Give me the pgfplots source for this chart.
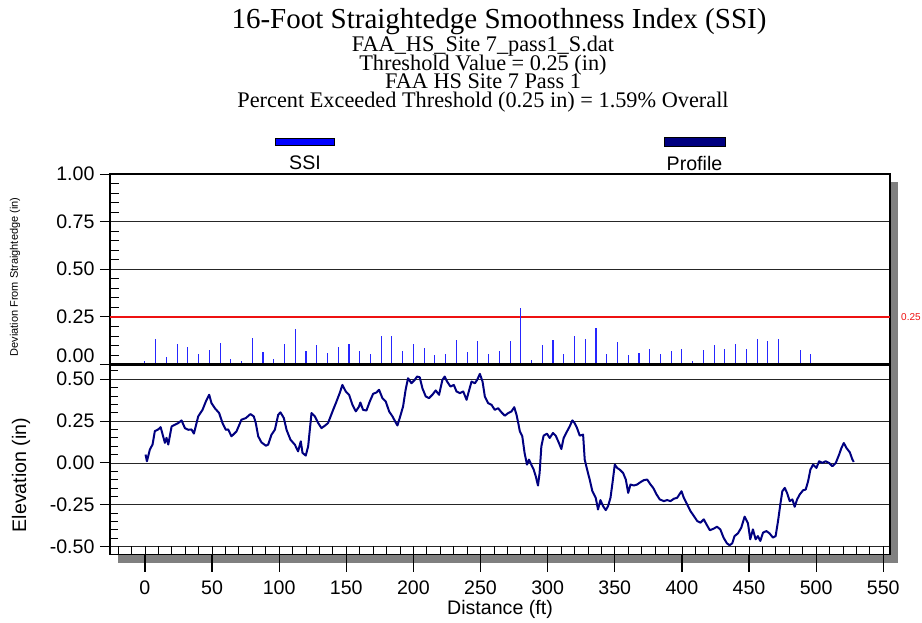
\documentclass[border=0pt]{standalone}
\usepackage{pgfplots}
\pgfplotsset{compat=1.18}
\usepackage{fontspec}
\setmainfont{Liberation Sans}
\newfontfamily\tnr{Liberation Serif}
\definecolor{navy}{HTML}{000080}
\definecolor{shadowgray}{HTML}{808080}
\definecolor{ssiblue}{HTML}{0000FF}
\definecolor{thr}{HTML}{EE1111}
\newcommand{\tickfont}{\fontsize{19.6}{22}\selectfont}
\pgfplotstableread{
d v
0 0.018
8 0.134
16 0.037
24 0.109
32 0.090
40 0.053
48 0.077
56 0.114
64 0.028
72 0.018
80 0.141
88 0.063
96 0.028
104 0.106
112 0.185
120 0.070
128 0.102
136 0.060
144 0.092
152 0.107
160 0.070
168 0.055
176 0.148
184 0.151
192 0.072
200 0.109
208 0.088
216 0.048
224 0.056
232 0.127
240 0.065
248 0.123
256 0.055
264 0.072
272 0.123
280 0.299
288 0.023
296 0.102
304 0.127
312 0.053
320 0.148
328 0.134
336 0.192
344 0.055
352 0.118
360 0.049
368 0.060
376 0.083
384 0.055
392 0.070
400 0.081
408 0.019
416 0.074
424 0.102
432 0.079
440 0.107
448 0.081
456 0.134
464 0.123
472 0.134
480 0.004
488 0.076
496 0.056
}\ssitable
\pgfplotstableread{
d v
0.5 0.05
1.5 0.01
3.7 0.08
5.7 0.11
7.4 0.19
9.9 0.20
11.7 0.214
13.2 0.17
14.9 0.12
16.1 0.15
17.4 0.11
19.9 0.218
22.3 0.228
24.8 0.238
27.3 0.254
29.8 0.208
32.3 0.198
34.7 0.20
36.5 0.175
39.7 0.278
42.9 0.317
45.4 0.367
47.9 0.407
49.6 0.357
52.1 0.327
55.3 0.298
57.8 0.238
60.3 0.198
62.0 0.20
64.5 0.159
68.2 0.188
71.9 0.258
75.2 0.268
78.6 0.292
81.1 0.278
82.6 0.238
84.4 0.159
86.8 0.123
90.1 0.103
91.8 0.109
94.3 0.169
96.8 0.198
99.3 0.288
101.0 0.302
103.5 0.268
105.5 0.198
108.4 0.139
111.7 0.109
114.1 0.069
116.1 0.129
117.4 0.06
119.8 0.044
121.6 0.099
124.1 0.298
126.6 0.278
129.1 0.238
131.5 0.208
134.0 0.222
136.4 0.238
140.2 0.317
142.7 0.367
145.1 0.417
147.1 0.466
149.6 0.427
152.1 0.407
154.6 0.347
157.1 0.308
159.5 0.337
160.5 0.361
162.5 0.317
165.0 0.313
167.5 0.367
170.0 0.413
172.5 0.421
174.4 0.437
176.9 0.387
179.4 0.367
181.9 0.308
184.4 0.278
186.8 0.242
188.1 0.224
189.8 0.268
192.3 0.337
194.2 0.437
196.0 0.506
198.5 0.476
201.0 0.496
202.7 0.516
204.7 0.512
206.7 0.446
209.2 0.397
211.6 0.387
214.1 0.407
216.6 0.433
219.1 0.407
221.6 0.496
223.3 0.516
225.1 0.486
227.6 0.456
230.1 0.466
232.1 0.427
234.6 0.417
237.1 0.427
239.6 0.377
241.6 0.437
243.3 0.486
245.8 0.476
247.5 0.496
249.5 0.532
251.5 0.486
253.2 0.397
255.7 0.357
258.2 0.347
260.6 0.317
263.1 0.327
265.6 0.302
268.1 0.282
270.6 0.298
273.1 0.308
275.1 0.333
276.8 0.288
278.1 0.238
279.3 0.188
281.1 0.159
282.8 0.06
284.6 -0.01
286.1 0.02
287.8 -0.01
289.6 -0.04
291.1 -0.079
292.8 -0.135
294.0 -0.06
295.3 0.099
297.0 0.163
299.5 0.175
301.5 0.149
304.0 0.179
306.0 0.163
308.4 0.119
310.2 0.083
311.9 0.149
314.4 0.188
316.4 0.218
318.4 0.254
320.1 0.238
321.9 0.208
323.9 0.163
326.4 0.169
327.6 0.02
329.4 -0.04
331.3 -0.099
333.3 -0.169
335.8 -0.208
337.5 -0.278
339.3 -0.222
341.3 -0.258
343.3 -0.282
345.0 -0.258
346.8 -0.208
348.3 -0.119
350.0 -0.01
351.8 -0.03
353.7 -0.04
356.2 -0.06
358.2 -0.099
360.0 -0.179
361.7 -0.129
364.2 -0.135
366.6 -0.129
369.1 -0.115
371.6 -0.103
374.1 -0.099
376.6 -0.129
378.6 -0.149
381.1 -0.188
383.5 -0.218
386.5 -0.228
389.0 -0.222
391.5 -0.228
394.0 -0.214
396.5 -0.208
399.7 -0.169
401.4 -0.208
403.9 -0.248
406.4 -0.288
408.9 -0.317
411.4 -0.347
413.8 -0.357
416.3 -0.337
418.3 -0.367
420.8 -0.402
423.6 -0.393
426.1 -0.381
428.6 -0.397
431.0 -0.446
433.5 -0.48
435.5 -0.492
437.5 -0.48
439.2 -0.437
441.7 -0.421
444.2 -0.387
446.7 -0.321
449.2 -0.361
450.9 -0.456
452.9 -0.397
454.9 -0.456
456.6 -0.437
458.4 -0.466
460.4 -0.417
462.9 -0.407
465.3 -0.421
467.8 -0.446
469.8 -0.437
471.6 -0.347
473.3 -0.248
474.8 -0.169
476.6 -0.149
478.3 -0.179
480.3 -0.228
482.3 -0.218
484.0 -0.262
485.8 -0.218
487.8 -0.188
490.3 -0.163
492.2 -0.159
494.0 -0.109
495.7 -0.04
497.7 -0.01
500.2 -0.03
502.2 0.01
504.6 0.0
507.1 0.01
509.6 0.0
512.1 -0.02
514.6 0.0
517.1 0.05
518.8 0.089
520.6 0.119
522.6 0.089
525.1 0.063
527.0 0.02
528.0 0.006
}\proftable
\begin{document}
\begin{tikzpicture}[x=1pt,y=1pt]
\path[use as bounding box] (0,0) rectangle (922,622);
% titles
\node[anchor=base, inner sep=0pt, font=\tnr\fontsize{29}{30}\selectfont] at (499,593) {16-Foot Straightedge Smoothness Index (SSI)};
\node[anchor=base, inner sep=0pt, font=\tnr\fontsize{22.3}{22}\selectfont] at (483,570) {FAA\_HS\_Site 7\_pass1\_S.dat};
\node[anchor=base, inner sep=0pt, font=\tnr\fontsize{22.3}{22}\selectfont] at (483,551.5) {Threshold Value = 0.25 (in)};
\node[anchor=base, inner sep=0pt, font=\tnr\fontsize{22.3}{22}\selectfont] at (483,533) {FAA HS Site 7 Pass 1};
\node[anchor=base, inner sep=0pt, font=\tnr\fontsize{22.3}{22}\selectfont] at (483,514.5) {Percent Exceeded Threshold (0.25 in) = 1.59\% Overall};
% legend
\filldraw[fill=ssiblue, draw=black, line width=0.6pt] (275,476.7) rectangle (334.3,483.7);
\node[font=\tickfont, inner sep=0pt] at (305,459) {SSI};
\filldraw[fill=navy, draw=black, line width=0.6pt] (664.3,476) rectangle (725,484.7);
\node[font=\tickfont, inner sep=0pt] at (694.5,459) {Profile};
% shadow
\fill[shadowgray] (118,58.7) rectangle (898,440);
% axis labels
\node[rotate=90, font=\fontsize{11}{12}\selectfont, inner sep=0pt] at (15,345) {Deviation From Straightedge (in)};
\node[rotate=90, font=\tickfont, inner sep=0pt] at (21,147) {Elevation (in)};
\node[font=\tickfont, inner sep=0pt] at (500,13) {Distance (ft)};

% ---------- top panel ----------
\begin{axis}[at={(110pt,257.5pt)}, anchor=south west, scale only axis,
  width=780pt, height=190.5pt,
  xmin=-26, xmax=555, ymin=0, ymax=1,
  xtick=\empty, ytick={0,0.25,0.5,0.75,1}, yticklabels={},
  minor ytick={0.05,0.1,0.15,0.2,0.3,0.35,0.4,0.45,0.55,0.6,0.65,0.7,0.8,0.85,0.9,0.95},
  tick align=inside, major tick length=0pt, minor tick length=9pt,
  ytick pos=left, tick style={black, line width=0.8pt},
  ymajorgrids, grid style={black!85, line width=0.8pt},
  axis line style={black, line width=1.1pt},
  axis background/.style={fill=white},
  clip=false]
\addplot[thr, line width=1.3pt] coordinates {(-26,0.25) (555,0.25)};
\addplot[ycomb, ssiblue!85, line width=1.1pt, no markers] table[x=d, y=v] {\ssitable};
\draw[black, line width=3pt] (rel axis cs:0,0) -- (rel axis cs:1,0);
\node[thr, anchor=west, inner sep=0pt, font=\fontsize{10}{11}\selectfont] at (rel axis cs:1,0.25) [xshift=11pt] {0.25};
\end{axis}
\begin{axis}[at={(110pt,257.5pt)}, anchor=south west, scale only axis,
  width=780pt, height=190.5pt,
  xmin=-26, xmax=555, ymin=0, ymax=1,
  axis line style={draw=none},
  xtick=\empty, ytick={0.25,0.5,0.75,1}, yticklabels={0.25,0.50,0.75,1.00},
  extra y ticks={0}, extra y tick labels={0.00},
  extra y tick style={tick label style={yshift=8.8pt}},
  tick align=outside, major tick length=10pt, ytick pos=left,
  tick style={black, line width=0.9pt},
  yticklabel style={font=\tickfont, xshift=-2pt}]
\end{axis}

% ---------- bottom panel ----------
\begin{axis}[at={(110pt,67.5pt)}, anchor=south west, scale only axis,
  width=780pt, height=189pt,
  xmin=-26, xmax=555, ymin=-0.547, ymax=0.582,
  xtick={0,50,100,150,200,250,300,350,400,450,500,550}, xticklabels={},
  ytick={-0.5,-0.25,0,0.25,0.5}, yticklabels={},
  minor xtick={-20,-10,0,10,20,30,40,50,60,70,80,90,100,110,120,130,140,150,160,170,180,190,200,210,220,230,240,250,260,270,280,290,300,310,320,330,340,350,360,370,380,390,400,410,420,430,440,450,460,470,480,490,500,510,520,530,540,550},
  minor ytick={-0.45,-0.4,-0.35,-0.3,-0.2,-0.15,-0.1,-0.05,0.05,0.1,0.15,0.2,0.3,0.35,0.4,0.45,0.55},
  tick align=inside, major tick length=0pt, minor tick length=8.3pt,
  tick pos=left, tick style={black, line width=0.8pt},
  ymajorgrids, grid style={black!85, line width=0.8pt},
  axis line style={black, line width=1.1pt},
  axis background/.style={fill=white}]
\addplot[navy, line width=2pt, line join=round] table[x=d, y=v] {\proftable};
\end{axis}
\begin{axis}[at={(110pt,67.5pt)}, anchor=south west, scale only axis,
  width=780pt, height=189pt,
  xmin=-26, xmax=555, ymin=-0.547, ymax=0.582,
  axis line style={draw=none},
  xtick=\empty, ytick={-0.5,-0.25,0,0.25,0.5},
  yticklabels={-0.50,-0.25,0.00,0.25,0.50},
  tick align=outside, major tick length=10pt, ytick pos=left,
  tick style={black, line width=0.9pt},
  yticklabel style={font=\tickfont, xshift=-2pt}]
\end{axis}
\begin{axis}[at={(110pt,67.5pt)}, anchor=south west, scale only axis,
  width=780pt, height=189pt,
  xmin=-26, xmax=555, ymin=-0.547, ymax=0.582,
  axis line style={draw=none},
  ytick=\empty, xtick={0,50,100,150,200,250,300,350,400,450,500,550},
  xticklabels={0,50,100,150,200,250,300,350,400,450,500,550},
  tick align=outside, major tick length=17pt, xtick pos=bottom,
  tick style={black, line width=1.2pt},
  xticklabel style={font=\tickfont, yshift=-6pt}]
\end{axis}
\end{tikzpicture}
\end{document}
